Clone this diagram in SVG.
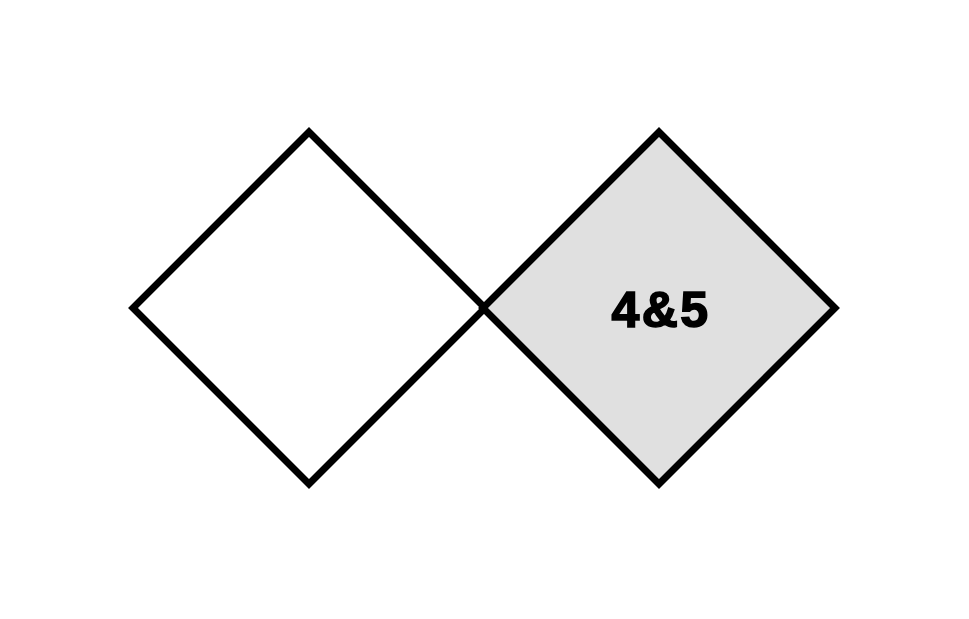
<svg xmlns="http://www.w3.org/2000/svg" width="969" height="619" viewBox="0 0 969 619">
<style>
.d{stroke:#000;stroke-width:7;stroke-linejoin:miter}
.t{font-family:"Liberation Sans",Arial,sans-serif;font-weight:bold;font-size:50px;fill:#000;stroke:#000;stroke-width:1.6}
</style>
<rect width="969" height="619" fill="#fff"/>
<g id="node-left"><polygon class="d" fill="#fff" points="309,132 485,308 309,484 133,308"/></g>
<g id="node-right"><polygon class="d" fill="#e0e0e0" points="659,132 835,308 659,484 483,308"/><text class="t" x="661" y="327" text-anchor="middle" letter-spacing="2.5">4&amp;5</text></g>
<g id="connectors"></g>
</svg>
